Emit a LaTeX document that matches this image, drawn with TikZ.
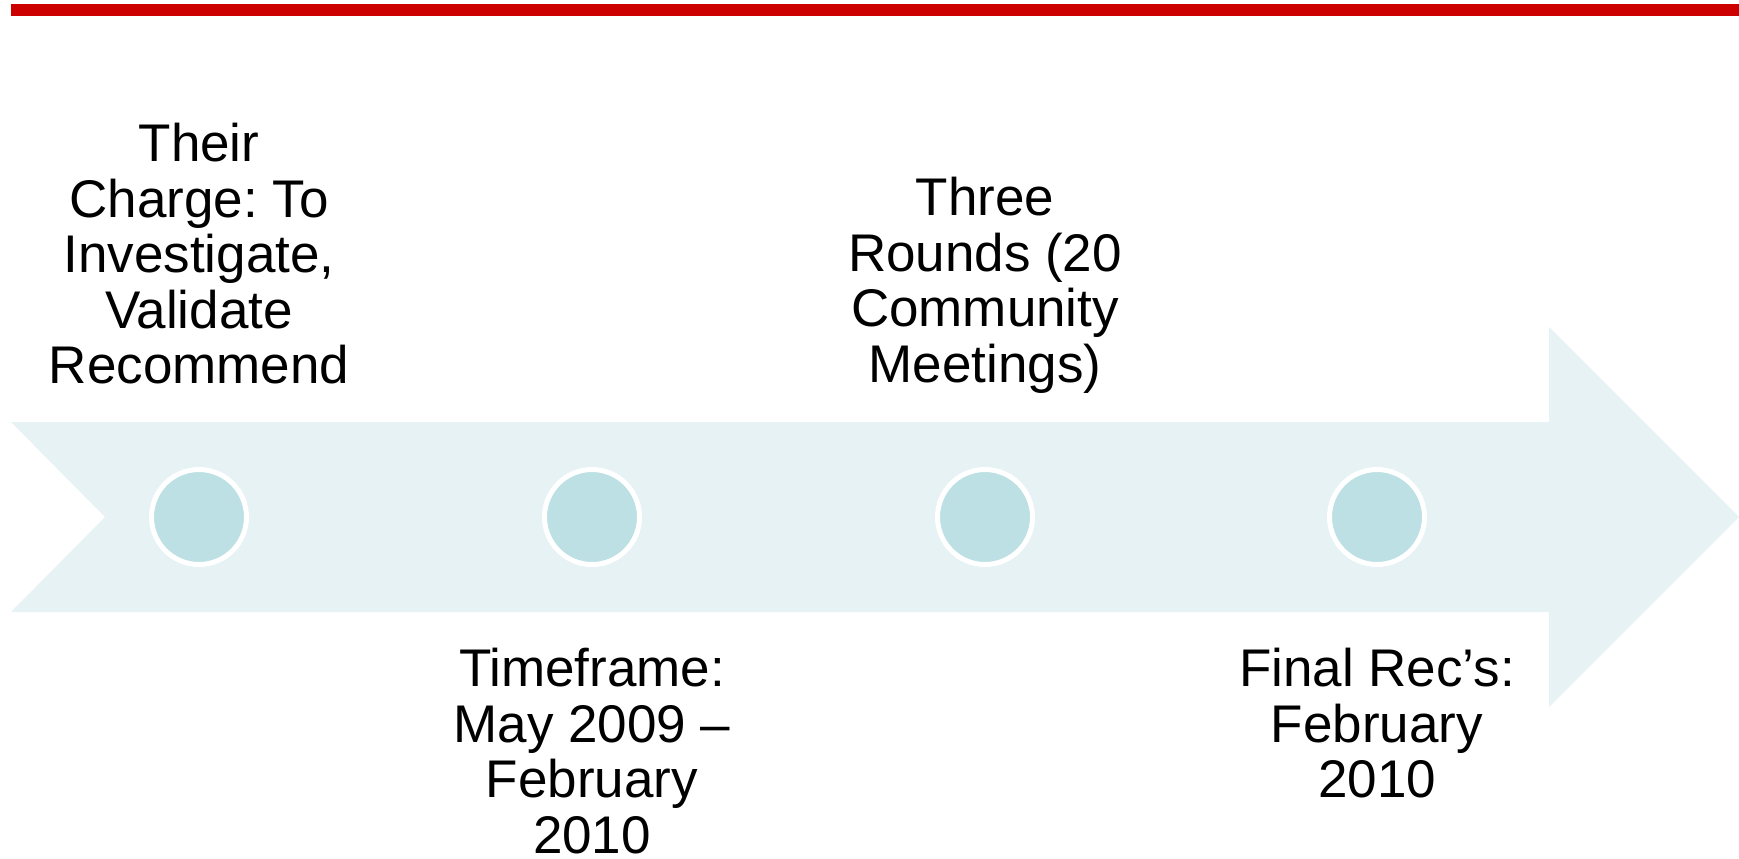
\documentclass[tikz,border=0pt]{standalone}
\usepackage{fontspec}
\setmainfont{Liberation Sans}
\usepackage{xcolor}
\definecolor{barred}{HTML}{CC0000}
\definecolor{arrowfill}{HTML}{E7F2F4}
\definecolor{dotfill}{HTML}{BCE0E3}
\frenchspacing

\begin{document}
\begin{tikzpicture}[x=0.5pt, y=-0.5pt,
  dot/.style={circle, fill=dotfill, draw=white, line width=2.5pt, minimum size=47.5pt, inner sep=0pt},
  txt/.style={anchor=north, align=center, inner sep=0pt, font=\fontsize{26.5pt}{27.75pt}\selectfont}]
\useasboundingbox (0,0) rectangle (1739,858);
\fill[barred] (11,4) rectangle (1739,16);
\fill[arrowfill] (11,422) -- (1549,422) -- (1549,327) -- (1739,517) -- (1549,707) -- (1549,612) -- (11,612) -- (105,517) -- cycle;

\node[dot] (dot1) at (199,517) {};
\node[dot] (dot2) at (592,517) {};
\node[dot] (dot3) at (985,517) {};
\node[dot] (dot4) at (1377,517) {};

\node[txt] (charge) at (199,123) {Their\\Charge: To\\Investigate,\\Validate\\Recommend};
\node[txt] (timeframe) at (592,648) {Timeframe:\\May 2009 --\\February\\2010};
\node[txt] (rounds) at (985,177) {Three\\Rounds (20\\Community\\Meetings)};
\node[txt] (finalrec) at (1377,648) {Final Rec’s:\\February\\2010};
\end{tikzpicture}
\end{document}
